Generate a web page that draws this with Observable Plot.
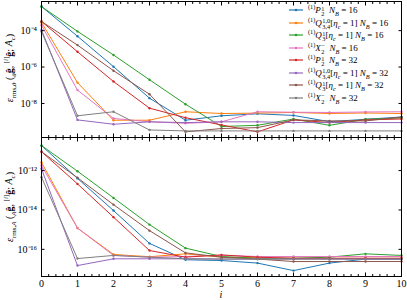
<!DOCTYPE html>
<html><head><meta charset="utf-8">
<script src="https://cdn.jsdelivr.net/npm/d3@7"></script>
<script src="https://cdn.jsdelivr.net/npm/@observablehq/plot@0.6"></script>
<style>
body{margin:0;background:#fff;}
#wrap{position:relative;width:407px;height:300px;font-family:"Liberation Serif",serif;overflow:hidden;}
#wrap svg{display:block;}
.ylab{position:absolute;white-space:nowrap;font-size:10px;transform:translate(-50%,-50%) rotate(-90deg);}
.xlab{position:absolute;font-size:10px;font-style:italic;transform:translate(-50%,-50%);}
.leg{position:absolute;left:289px;top:4px;font-size:9px;}
.row{height:12.5px;display:flex;align-items:center;white-space:nowrap;}
.row svg{margin-right:5px;}
.ss{display:inline-flex;flex-direction:column;vertical-align:middle;font-size:6.3px;line-height:5.6px;margin-left:0.5px;}
sup,sub{font-size:6.3px;}
.ylab sup,.ylab sub{font-size:7px;}
i{font-style:italic;}
</style></head><body>
<div id="wrap"></div>
<script>
const iters = [0,1,2,3,4,5,6,7,8,9,10];
const seriesKeys = ["P16","Q34_16","Q3_16","X16","P32","Q34_32","Q3_32","X32"];
const colors = ["#1f77b4","#ff7f0e","#2ca02c","#e377c2","#d62728","#9467bd","#8c564b","#7f7f7f"];
const legendLabels = [
  "<sup>(1)</sup><i>P</i><span class='ss'><span>1</span><span>2</span></span> &nbsp;<i>N<sub>B</sub></i> = 16",
  "<sup>(1)</sup><i>Q</i><span class='ss'><span>1,0</span><span>3,4</span></span>[<i>η<sub>c</sub></i> = 1] <i>N<sub>B</sub></i> = 16",
  "<sup>(1)</sup><i>Q</i><span class='ss'><span>1</span><span>3</span></span>[<i>η<sub>c</sub></i> = 1] <i>N<sub>B</sub></i> = 16",
  "<sup>(1)</sup><i>X</i><span class='ss'><span>−</span><span>2</span></span> &nbsp;<i>N<sub>B</sub></i> = 16",
  "<sup>(1)</sup><i>P</i><span class='ss'><span>1</span><span>2</span></span> &nbsp;<i>N<sub>B</sub></i> = 32",
  "<sup>(1)</sup><i>Q</i><span class='ss'><span>1,0</span><span>3,4</span></span>[<i>η<sub>c</sub></i> = 1] <i>N<sub>B</sub></i> = 32",
  "<sup>(1)</sup><i>Q</i><span class='ss'><span>1</span><span>3</span></span>[<i>η<sub>c</sub></i> = 1] <i>N<sub>B</sub></i> = 32",
  "<sup>(1)</sup><i>X</i><span class='ss'><span>−</span><span>2</span></span> &nbsp;<i>N<sub>B</sub></i> = 32"
];
// top panel: e_rms,theta
const thetaP16   = [2.1e-3,4.9e-5,1.05e-6,1.95e-8,1.2e-9,2.1e-9,2.7e-9,2.2e-9,1.0e-9,1.35e-9,1.8e-9];
const thetaQ34_16= [2.8e-4,1.4e-7,1.2e-9,1.2e-9,3.5e-9,2.8e-9,2.95e-9,3.2e-9,2.8e-9,3.0e-9,2.8e-9];
const thetaQ3_16 = [2.1e-3,9.1e-5,4.6e-6,2.0e-7,9.1e-9,5.4e-10,6.3e-10,1.4e-9,6.3e-10,1.35e-9,1.6e-9];
const thetaX16   = [2.0e-4,5.4e-8,1.5e-9,9.8e-10,8.1e-10,9.8e-10,3.5e-9,3.3e-9,3.2e-9,3.4e-9,3.5e-9];
const thetaP32   = [3.2e-4,6.9e-6,1.6e-7,5.5e-9,1.65e-9,6.6e-10,2.75e-10,1.25e-9,8.9e-10,1.25e-9,1.4e-9];
const thetaQ34_32= [1.1e-4,1.25e-9,7.2e-10,9.8e-10,8.9e-10,9.8e-10,9.8e-10,8.9e-10,8.9e-10,8.9e-10,8.9e-10];
const thetaQ3_32 = [3.2e-4,1.6e-5,6.3e-7,3.2e-8,2.75e-10,4.2e-10,4.7e-10,1.25e-9,1.1e-9,1.1e-9,1.8e-9];
const thetaX32   = [8.9e-5,2.1e-9,3.5e-9,3.5e-10,3.1e-10,3.1e-10,3.1e-10,3.1e-10,3.1e-10,3.1e-10,3.1e-10];
// bottom panel: e_rms,A
const aP16   = [1.86e-11,4.0e-13,9.3e-15,2.0e-16,2.95e-17,2.7e-17,2.0e-17,8.3e-18,2.0e-17,3.2e-17,3.2e-17];
const aQ34_16= [2.6e-12,1.2e-15,5.5e-17,4.2e-17,5.9e-17,4.0e-17,3.7e-17,3.5e-17,3.5e-17,3.5e-17,3.5e-17];
const aQ3_16 = [1.86e-11,9.3e-13,4.1e-14,1.8e-15,1.15e-16,4.3e-17,3.5e-17,3.5e-17,4.0e-17,5.9e-17,4.9e-17];
const aX16   = [1.8e-12,1.2e-15,4.9e-17,4.0e-17,4.3e-17,5.0e-17,4.3e-17,4.3e-17,4.3e-17,4.3e-17,4.3e-17];
const aP32   = [9.1e-12,2.1e-13,4.3e-15,8.7e-17,4.0e-17,5.2e-17,4.0e-17,3.5e-17,3.5e-17,3.5e-17,3.5e-17];
const aQ34_32= [1.23e-12,1.5e-17,3.3e-17,3.3e-17,3.3e-17,3.2e-17,3.2e-17,3.2e-17,3.2e-17,3.2e-17,3.2e-17];
const aQ3_32 = [9.1e-12,4.3e-13,1.86e-14,8.9e-16,6.6e-17,4.0e-17,3.2e-17,2.4e-17,2.4e-17,2.4e-17,2.4e-17];
const aX32   = [4.6e-13,3.4e-17,4.9e-17,4.0e-17,3.3e-17,3.2e-17,3.2e-17,3.2e-17,3.2e-17,3.2e-17,3.2e-17];
const thetaSeries = [thetaP16,thetaQ34_16,thetaQ3_16,thetaX16,thetaP32,thetaQ34_32,thetaQ3_32,thetaX32];
const aSeries = [aP16,aQ34_16,aQ3_16,aX16,aP32,aQ34_32,aQ3_32,aX32];
const thetaTicks = [1e-4,1e-6,1e-8];
const aTicks = [1e-12,1e-14,1e-16];
const xMajor = [0,1,2,3,4,5,6,7,8,9,10];
const xMinor = d3.range(0, 10.001, 0.2);

const supMap = {"-":"⁻","0":"⁰","1":"¹","2":"²","3":"³","4":"⁴","5":"⁵","6":"⁶","7":"⁷","8":"⁸","9":"⁹"};
const fmtPow = d => "10" + String(Math.round(Math.log10(d))).split("").map(c => supMap[c]).join("");

function table(series) {
  const rows = [];
  series.forEach((vals, s) => vals.forEach((v, k) => rows.push({i: iters[k], v, key: seriesKeys[s]})));
  return rows;
}

function panel({series, ticks, domain, height, marginTop, marginBottom, labels}) {
  const data = table(series);
  return Plot.plot({
    width: 407, height, marginLeft: 41, marginRight: 6, marginTop, marginBottom,
    x: {domain: [0, 10]},
    y: {type: "log", domain},
    color: {domain: seriesKeys, range: colors},
    style: {fontFamily: "Liberation Serif, serif", fontSize: "10px", background: "transparent", overflow: "visible"},
    marks: [
      Plot.line(data, {x: "i", y: "v", z: "key", stroke: "key", strokeWidth: 1}),
      Plot.dot(data, {x: "i", y: "v", fill: "key", r: 1.2}),
      Plot.frame({stroke: "black", strokeWidth: 1}),
      Plot.axisY(ticks, {anchor: "left", tickSize: -3.5, tickPadding: 8, tickFormat: fmtPow, label: null}),
      Plot.axisY(ticks, {anchor: "right", tickSize: -3.5, tickFormat: () => "", label: null}),
      Plot.axisX(xMajor, {anchor: "bottom", tickSize: -3.5, tickPadding: 6.5, tickFormat: labels ? (d => String(d)) : (() => ""), label: null}),
      Plot.axisX(xMinor, {anchor: "bottom", tickSize: -2, tickFormat: () => "", label: null}),
      Plot.axisX(xMajor, {anchor: "top", tickSize: -3.5, tickFormat: () => "", label: null}),
      Plot.axisX(xMinor, {anchor: "top", tickSize: -2, tickFormat: () => "", label: null})
    ]
  });
}

const wrap = document.getElementById("wrap");
wrap.appendChild(panel({series: thetaSeries, ticks: thetaTicks, domain: [10**-9.87, 10**-2.40], height: 137, marginTop: 1, marginBottom: 0, labels: false}));
wrap.appendChild(panel({series: aSeries, ticks: aTicks, domain: [10**-17.38, 10**-10.32], height: 163, marginTop: 0, marginBottom: 24, labels: true}));

const yl1 = document.createElement("div");
yl1.className = "ylab"; yl1.style.left = "10px"; yl1.style.top = "68px";
yl1.innerHTML = "<i>ε</i><sub>rms,<i>θ</i></sub> (<sub><i>θ</i></sub><b>ĝ</b>, <sup>[<i>i</i>]</sup><b>ĝ</b>; <i>A<sub>c</sub></i>)";
wrap.appendChild(yl1);
const yl2 = document.createElement("div");
yl2.className = "ylab"; yl2.style.left = "10px"; yl2.style.top = "207px";
yl2.innerHTML = "<i>ε</i><sub>rms,<i>A</i></sub> (<sub><i>A</i></sub><b>ĝ</b>, <sup>[<i>i</i>]</sup><b>ĝ</b>; <i>A<sub>c</sub></i>)";
wrap.appendChild(yl2);
const xl = document.createElement("div");
xl.className = "xlab"; xl.style.left = "221px"; xl.style.top = "294px"; xl.textContent = "i";
wrap.appendChild(xl);

const leg = document.createElement("div");
leg.className = "leg";
seriesKeys.forEach((k, s) => {
  const row = document.createElement("div");
  row.className = "row";
  row.innerHTML = `<svg width="14" height="6"><line x1="0" x2="14" y1="3" y2="3" stroke="${colors[s]}" stroke-width="1.2"/><circle cx="7" cy="3" r="1.3" fill="${colors[s]}"/></svg><span>${legendLabels[s]}</span>`;
  leg.appendChild(row);
});
wrap.appendChild(leg);
</script>
</body></html>
